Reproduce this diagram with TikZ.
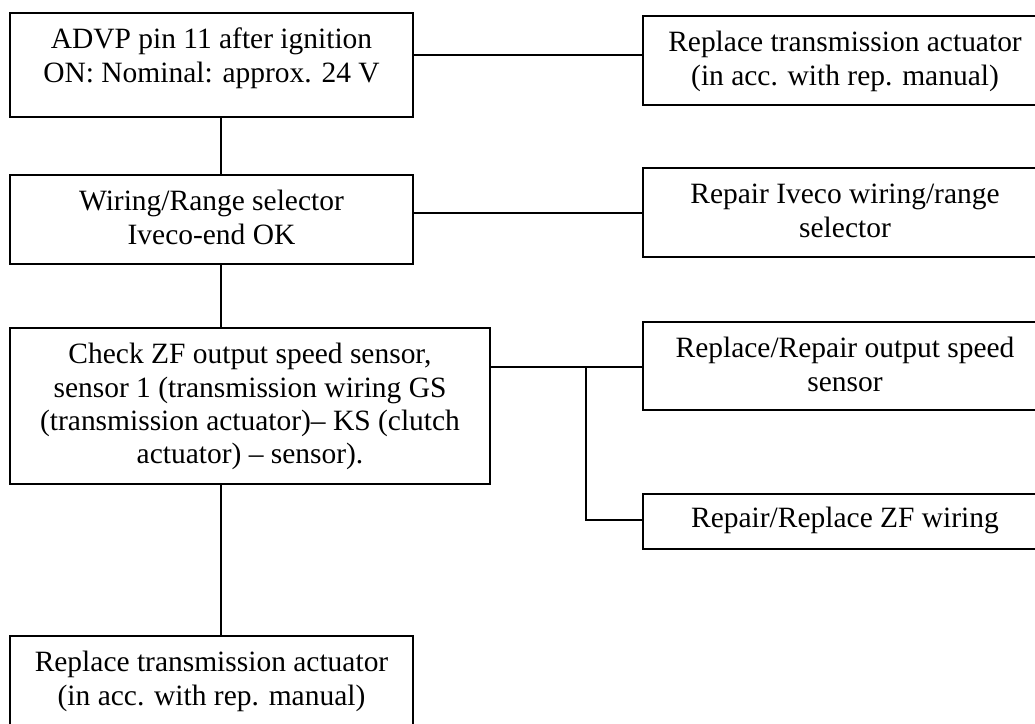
\documentclass[tikz,border=0pt]{standalone}
\usepackage{fontspec}
\setmainfont{Liberation Serif}
\begin{document}
\begin{tikzpicture}[x=0.75pt,y=-0.75pt,
  box/.style={draw, line width=1.2pt, rectangle, inner sep=0pt},
  txt/.style={align=center, inner sep=0pt, anchor=north, font=\fontsize{22.1pt}{24.8pt}\selectfont},
  link/.style={line width=1.2pt}]
\useasboundingbox (0,0) rectangle (1035,724);
\fill[white] (0,0) rectangle (1035,724);
\clip (0,0) rectangle (1035,724);
% boxes
\node[box, minimum width=302.25pt, minimum height=78pt] (A) at (211.5,65) {};
\node[box, minimum width=303pt, minimum height=66.75pt] (B) at (845,60.5) {};
\node[box, minimum width=302.25pt, minimum height=66.75pt] (C) at (211.5,219.5) {};
\node[box, minimum width=303pt, minimum height=66.75pt] (D) at (845,212.5) {};
\node[box, minimum width=360pt, minimum height=117pt] (E) at (250,406) {};
\node[box, minimum width=303pt, minimum height=66pt] (F) at (845,366) {};
\node[box, minimum width=303pt, minimum height=41.25pt] (G) at (845,521.5) {};
\node[box, minimum width=302.25pt, minimum height=78pt] (H) at (211.5,688) {};
% texts
\node[txt] (tA) at ([yshift=-10pt]A.north) {\strut ADVP pin 11 after ignition\\ON: Nominal: approx. 24 V};
\node[txt] (tB) at ([yshift=-10pt]B.north) {\strut Replace transmission actuator\\(in acc. with rep. manual)};
\node[txt] (tC) at ([yshift=-10pt]C.north) {\strut Wiring/Range selector\\Iveco-end OK};
\node[txt] (tD) at ([yshift=-10pt]D.north) {\strut Repair Iveco wiring/range\\selector};
\node[txt] (tE) at ([yshift=-10pt]E.north) {\strut Check ZF output speed sensor,\\sensor 1 (transmission wiring GS\\(transmission actuator)– KS (clutch\\actuator) – sensor).};
\node[txt] (tF) at ([yshift=-10pt]F.north) {\strut Replace/Repair output speed\\sensor};
\node[txt] (tG) at ([yshift=-8pt]G.north) {\strut Repair/Replace ZF wiring};
\node[txt] (tH) at ([yshift=-10pt]H.north) {\strut Replace transmission actuator\\(in acc. with rep. manual)};
% connector guides
\coordinate (v) at (221,0);
\coordinate (ab) at (0,55);
\coordinate (cd) at (0,213);
\coordinate (ef) at (0,367);
\coordinate (j) at (586,367);
\coordinate (jg) at (586,520);
% connectors
\draw[link] (A.east |- ab) -- (B.west |- ab);
\draw[link] (C.east |- cd) -- (D.west |- cd);
\draw[link] (E.east |- ef) -- (F.west |- ef);
\draw[link] (j) -- (jg) -- (G.west |- jg);
\draw[link] (A.south -| v) -- (C.north -| v);
\draw[link] (C.south -| v) -- (E.north -| v);
\draw[link] (E.south -| v) -- (H.north -| v);
\end{tikzpicture}
\end{document}
